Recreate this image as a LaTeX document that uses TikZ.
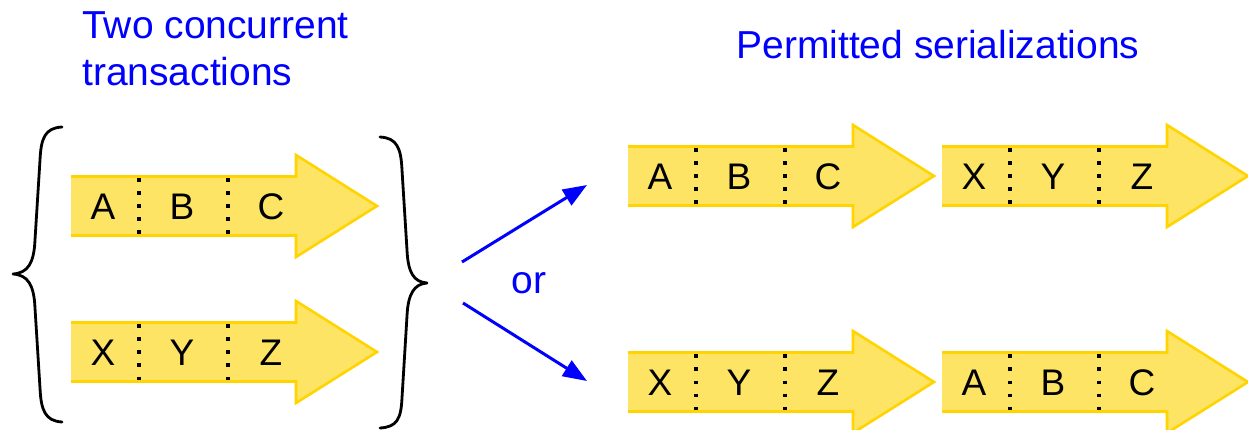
\documentclass[tikz,border=0pt]{standalone}
\usepackage{fontspec}
\setmainfont{Liberation Sans}
\usetikzlibrary{arrows.meta}

\definecolor{txnfill}{HTML}{FDE465}
\definecolor{txnedge}{HTML}{FFD400}
\definecolor{titleblue}{HTML}{0000FF}

\tikzset{
  txnbody/.style={fill=txnfill},
  txnedge/.style={draw=txnedge, line width=2.6pt, line join=miter},
  opsep/.style={draw=black, line width=3.2pt, dash pattern=on 3.2pt off 9.8pt},
  opletter/.style={font=\fontsize{37}{44}\selectfont, inner sep=0pt, anchor=base},
  title/.style={font=\fontsize{39}{47}\selectfont, text=titleblue, inner sep=0pt},
  brace/.style={draw=black, line width=2.8pt, line cap=round, line join=round},
  fork/.style={draw=titleblue, line width=3pt, -{Triangle[length=24pt,width=18pt]}},
  % one transaction: a block arrow cut into three operations
  pics/txn/.style n args={3}{code={
    \fill[txnbody] (0,-29.5) -- (225,-29.5) -- (225,-51) -- (306,0)
                   -- (225,51) -- (225,29.5) -- (0,29.5) -- cycle;
    \draw[txnedge] (0,-29.5) -- (225,-29.5) -- (225,-51) -- (306,0)
                   -- (225,51) -- (225,29.5) -- (0,29.5);
    \draw[opsep] (68,-27.5) -- (68,29.5);
    \draw[opsep] (157,-27.5) -- (157,29.5);
    \node[opletter] (-op1) at (32,13.3) {#1};
    \node[opletter] (-op2) at (111,13.3) {#2};
    \node[opletter] (-op3) at (200,13.3) {#3};
  }}
}

\begin{document}
\begin{tikzpicture}[x=1pt, y=-1pt]
  \useasboundingbox (0,0) rectangle (1248,430);

  % headings
  \node[title, anchor=base west] (heading-left1) at (82,39) {Two concurrent};
  \node[title, anchor=base west] (heading-left2) at (82,86) {transactions};
  \node[title, anchor=base] (heading-right) at (938,59) {Permitted serializations};

  % the two concurrent transactions
  \pic (first)  at (71,206) {txn={A}{B}{C}};
  \pic (second) at (71,352) {txn={X}{Y}{Z}};

  % braces grouping them
  \draw[brace] (62,127) .. controls (45,128) and (41,138) .. (40,160)
    -- (35,240) .. controls (34,263) and (28,273) .. (13,274)
    .. controls (28,275) and (34,285) .. (35,308)
    -- (40,388) .. controls (41,410) and (45,421) .. (62,422);
  \draw[brace] (380,137) .. controls (397,138) and (401,148) .. (402,170)
    -- (407,250) .. controls (408,273) and (414,282) .. (427,283)
    .. controls (414,284) and (408,294) .. (407,316)
    -- (402,398) .. controls (401,419) and (397,427) .. (380,428);

  % the two permitted orders
  \pic (serialA1) at (628,176) {txn={A}{B}{C}};
  \pic (serialA2) at (942,176) {txn={X}{Y}{Z}};
  \pic (serialB1) at (628,382) {txn={X}{Y}{Z}};
  \pic (serialB2) at (942,382) {txn={A}{B}{C}};

  % choice between them
  \coordinate (fork-up-from)   at (462,262);
  \coordinate (fork-up-to)     at (587,185);
  \coordinate (fork-down-from) at (463,303);
  \coordinate (fork-down-to)   at (587,381);
  \draw[fork] (fork-up-from) -- (fork-up-to);
  \draw[fork] (fork-down-from) -- (fork-down-to);
  \node[title, anchor=base] (choice) at (529,294) {or};
\end{tikzpicture}
\end{document}
